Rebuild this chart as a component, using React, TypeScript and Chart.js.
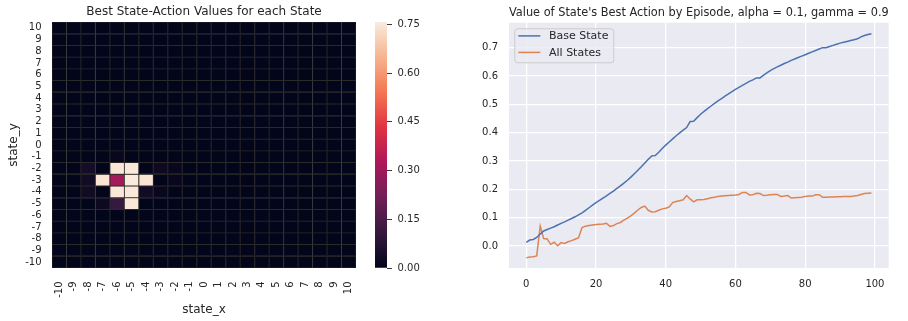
import React, { useEffect, useRef } from "react";
import { Chart, registerables } from "chart.js";
Chart.register(...registerables);

const FONT = "'DejaVu Sans', 'Liberation Sans', sans-serif";
const TEXT = "#262626";

// ---------- heatmap data ----------
const heatXLabels = ["-10", "-9", "-8", "-7", "-6", "-5", "-4", "-3", "-2", "-1", "0", "1", "2", "3", "4", "5", "6", "7", "8", "9", "10"];
const heatYValues = [10, 9, 8, 7, 6, 5, 4, 3, 2, 1, 0, -1, -2, -3, -4, -5, -6, -7, -8, -9, -10];
// non-zero cells (all other cells are 0)
const hotCellX = [-6, -5, -7, -6, -5, -4, -6, -5, -6, -5, -8, -8, -8, -4, -3, -7, -3, -2, -2, -6];
const hotCellY = [-2, -2, -3, -3, -3, -3, -4, -4, -5, -5, -2, -3, -4, -4, -4, -5, -2, -2, -3, -1];
const hotCellValue = [0.748, 0.752, 0.745, 0.31, 0.757, 0.744, 0.75, 0.753, 0.11, 0.749, 0.04, 0.03, 0.03, 0.035, 0.015, 0.02, 0.025, 0.012, 0.01, 0.012];
const colorbarTicks = [0, 0.15, 0.3, 0.45, 0.6, 0.75];

// ---------- line chart data ----------
const episodes = [
  0, 1, 2, 3, 4, 5, 6, 7, 8, 9, 10, 11, 12, 13, 14, 15, 16, 17, 18, 19,
  20, 21, 22, 23, 24, 25, 26, 27, 28, 29, 30, 31, 32, 33, 34, 35, 36, 37, 38, 39,
  40, 41, 42, 43, 44, 45, 46, 47, 48, 49, 50, 51, 52, 53, 54, 55, 56, 57, 58, 59,
  60, 61, 62, 63, 64, 65, 66, 67, 68, 69, 70, 71, 72, 73, 74, 75, 76, 77, 78, 79,
  80, 81, 82, 83, 84, 85, 86, 87, 88, 89, 90, 91, 92, 93, 94, 95, 96, 97, 98, 99,
];
const baseState = [
  0.013, 0.021, 0.023, 0.030, 0.042, 0.053, 0.058, 0.063, 0.068, 0.074,
  0.080, 0.085, 0.091, 0.097, 0.103, 0.110, 0.117, 0.126, 0.135, 0.144,
  0.153, 0.161, 0.169, 0.177, 0.186, 0.194, 0.203, 0.212, 0.222, 0.232,
  0.243, 0.255, 0.267, 0.280, 0.293, 0.306, 0.318, 0.319, 0.331, 0.344,
  0.356, 0.367, 0.378, 0.389, 0.399, 0.409, 0.418, 0.439, 0.440, 0.453,
  0.465, 0.475, 0.485, 0.494, 0.503, 0.512, 0.520, 0.529, 0.537, 0.545,
  0.553, 0.560, 0.567, 0.574, 0.581, 0.586, 0.593, 0.593, 0.602, 0.611,
  0.619, 0.626, 0.632, 0.638, 0.644, 0.649, 0.655, 0.660, 0.665, 0.670,
  0.675, 0.680, 0.685, 0.690, 0.695, 0.700, 0.700, 0.704, 0.708, 0.712,
  0.716, 0.719, 0.722, 0.725, 0.728, 0.731, 0.738, 0.743, 0.746, 0.749,
];
const allStates = [
  -0.042, -0.039, -0.038, -0.035, 0.070, 0.026, 0.025, 0.006, 0.013, 0.001,
  0.012, 0.009, 0.015, 0.019, 0.024, 0.029, 0.065, 0.070, 0.072, 0.074,
  0.076, 0.077, 0.078, 0.080, 0.069, 0.072, 0.079, 0.083, 0.091, 0.098,
  0.106, 0.116, 0.127, 0.136, 0.141, 0.126, 0.120, 0.121, 0.126, 0.131,
  0.133, 0.138, 0.153, 0.157, 0.160, 0.163, 0.178, 0.166, 0.156, 0.163,
  0.163, 0.164, 0.167, 0.170, 0.172, 0.175, 0.176, 0.177, 0.178, 0.179,
  0.180, 0.182, 0.189, 0.189, 0.180, 0.181, 0.186, 0.185, 0.178, 0.179,
  0.181, 0.182, 0.182, 0.175, 0.176, 0.178, 0.169, 0.170, 0.171, 0.172,
  0.175, 0.176, 0.176, 0.181, 0.181, 0.172, 0.172, 0.173, 0.173, 0.174,
  0.174, 0.175, 0.175, 0.175, 0.176, 0.178, 0.182, 0.185, 0.186, 0.187,
];
const lineXTicks = [0, 20, 40, 60, 80, 100];
const lineYTicks = [0, 0.1, 0.2, 0.3, 0.4, 0.5, 0.6, 0.7];

// ---------- rocket colormap ----------
const ROCKET: [number, number[]][] = [
  [0, [3, 5, 26]],
  [1 / 7, [53, 25, 62]],
  [2 / 7, [112, 31, 87]],
  [3 / 7, [173, 23, 89]],
  [4 / 7, [225, 51, 66]],
  [5 / 7, [243, 118, 81]],
  [6 / 7, [246, 180, 143]],
  [1, [250, 235, 221]],
];
function rocket(t: number): string {
  const v = Math.max(0, Math.min(1, t));
  for (let i = 1; i < ROCKET.length; i++) {
    const [t1, c1] = ROCKET[i];
    const [t0, c0] = ROCKET[i - 1];
    if (v <= t1) {
      const f = (v - t0) / (t1 - t0);
      const c = c0.map((a, k) => Math.round(a + (c1[k] - a) * f));
      return `rgb(${c[0]},${c[1]},${c[2]})`;
    }
  }
  return "rgb(250,235,221)";
}

const vmax = Math.max(...hotCellValue);

function cellValue(x: number, y: number): number {
  for (let i = 0; i < hotCellX.length; i++) {
    if (hotCellX[i] === x && hotCellY[i] === y) return hotCellValue[i];
  }
  return 0;
}

const tickFont = { family: FONT, size: 10 };
const labelFont = { family: FONT, size: 12 };

function heatConfig(): any {
  const datasets = heatYValues.map((y) => ({
    data: heatXLabels.map(() => [y - 0.5, y + 0.5]),
    backgroundColor: heatXLabels.map((lx) => rocket(cellValue(Number(lx), y) / vmax)),
    borderColor: "#2a2a2a",
    borderWidth: 0.8,
    borderSkipped: false,
    grouped: false,
    barPercentage: 1,
    categoryPercentage: 1,
  }));
  return {
    type: "bar",
    data: { labels: heatXLabels, datasets },
    options: {
      animation: false,
      responsive: false,
      events: [],
      layout: { padding: { right: 14 } },
      plugins: {
        legend: { display: false },
        tooltip: { enabled: false },
        title: {
          display: true,
          text: "Best State-Action Values for each State",
          font: { family: FONT, size: 12, weight: "normal" },
          color: TEXT,
          padding: { top: 5, bottom: 2.6 },
          fullSize: false,
        },
      },
      scales: {
        x: {
          type: "category",
          offset: true,
          grid: { display: false, drawTicks: false },
          border: { display: false },
          ticks: { autoSkip: false, minRotation: 90, maxRotation: 90, padding: 13.5, font: tickFont, color: TEXT },
          title: { display: true, text: "state_x", font: labelFont, color: TEXT, padding: { top: 0, bottom: 4 } },
          afterFit: (s: any) => { s.height = 53; s.paddingLeft = 0; s.paddingRight = 0; },
        },
        y: {
          type: "linear",
          min: -10.5,
          max: 10.5,
          afterBuildTicks: (s: any) => { s.ticks = heatYValues.map((v) => ({ value: v })); },
          grid: { display: false, drawTicks: false },
          border: { display: false },
          ticks: { autoSkip: false, padding: 10.5, font: tickFont, color: TEXT, callback: (v: any) => String(v) },
          title: { display: true, text: "state_y", font: labelFont, color: TEXT, padding: { top: 7, bottom: 0 } },
          afterFit: (s: any) => { s.width = 52; },
        },
      },
    },
  };
}

function colorbarConfig(): any {
  return {
    type: "bar",
    data: {
      labels: [""],
      datasets: [
        {
          data: [vmax],
          borderWidth: 0,
          barPercentage: 1,
          categoryPercentage: 1,
          backgroundColor: (ctx: any) => {
            const chart = ctx.chart;
            const ys = chart.scales && chart.scales.y;
            if (!chart.chartArea || !ys) return rocket(0.5);
            const g = chart.ctx.createLinearGradient(0, ys.getPixelForValue(0), 0, ys.getPixelForValue(vmax));
            ROCKET.forEach(([t, c]) => g.addColorStop(t, `rgb(${c[0]},${c[1]},${c[2]})`));
            return g;
          },
        },
      ],
    },
    options: {
      animation: false,
      responsive: false,
      events: [],
      layout: { padding: { left: 5, top: 22, bottom: 53 } },
      plugins: { legend: { display: false }, tooltip: { enabled: false }, title: { display: false } },
      scales: {
        x: { display: false },
        y: {
          position: "right",
          min: 0,
          max: vmax,
          afterBuildTicks: (s: any) => { s.ticks = colorbarTicks.map((v) => ({ value: v })); },
          grid: { drawOnChartArea: false, drawTicks: true, tickLength: 5, color: "#3a3a3a", lineWidth: 1 },
          border: { display: false },
          ticks: { padding: 5.5, font: tickFont, color: TEXT, callback: (v: any) => Number(v).toFixed(2) },
          afterFit: (s: any) => { s.width = 43; },
        },
      },
    },
  };
}

const areaBg = {
  id: "areaBg",
  beforeDraw(chart: any) {
    const { ctx, chartArea: a } = chart;
    ctx.save();
    ctx.fillStyle = "#EAEAF2";
    ctx.fillRect(a.left, a.top, a.right - a.left, a.bottom - a.top);
    ctx.restore();
  },
};

const innerLegend = {
  id: "innerLegend",
  afterDatasetsDraw(chart: any) {
    const { ctx, chartArea: a } = chart;
    const x = a.left + 5.3;
    const y = a.top + 5.6;
    const w = 99;
    const h = 34;
    ctx.save();
    ctx.beginPath();
    if (ctx.roundRect) ctx.roundRect(x + 0.5, y + 0.5, w, h, 3);
    else ctx.rect(x + 0.5, y + 0.5, w, h);
    ctx.fillStyle = "rgba(234,234,242,0.8)";
    ctx.fill();
    ctx.strokeStyle = "#cccccc";
    ctx.lineWidth = 1;
    ctx.stroke();
    chart.data.datasets.forEach((ds: any, i: number) => {
      const ly = y + 7.6 + i * 16.5;
      ctx.beginPath();
      ctx.strokeStyle = ds.borderColor;
      ctx.lineWidth = 1.5;
      ctx.moveTo(x + 4, ly);
      ctx.lineTo(x + 26, ly);
      ctx.stroke();
      ctx.fillStyle = TEXT;
      ctx.font = `11px ${FONT}`;
      ctx.textBaseline = "middle";
      ctx.textAlign = "left";
      ctx.fillText(ds.label, x + 34.7, ly + 0.6);
    });
    ctx.restore();
  },
};

function lineConfig(): any {
  return {
    type: "line",
    data: {
      labels: episodes,
      datasets: [
        { label: "Base State", data: baseState, borderColor: "#4C72B0", backgroundColor: "#4C72B0", borderWidth: 1.5, pointRadius: 0, tension: 0, fill: false },
        { label: "All States", data: allStates, borderColor: "#DD8452", backgroundColor: "#DD8452", borderWidth: 1.5, pointRadius: 0, tension: 0, fill: false },
      ],
    },
    plugins: [areaBg, innerLegend],
    options: {
      animation: false,
      responsive: false,
      events: [],
      layout: { padding: { right: 19.3 } },
      plugins: {
        legend: { display: false },
        tooltip: { enabled: false },
        title: {
          display: true,
          text: "Value of State's Best Action by Episode, alpha = 0.1, gamma = 0.9",
          font: { family: FONT, size: 12, weight: "normal" },
          color: TEXT,
          padding: { top: 5.5, bottom: 2.8 },
          fullSize: false,
        },
      },
      scales: {
        x: {
          type: "linear",
          min: -4.95,
          max: 103.95,
          afterBuildTicks: (s: any) => { s.ticks = lineXTicks.map((v) => ({ value: v })); },
          grid: { color: "#ffffff", lineWidth: 1.25, drawTicks: false },
          border: { display: false },
          ticks: { padding: 10, font: tickFont, color: TEXT, callback: (v: any) => String(v) },
          afterFit: (s: any) => { s.height = 53; },
        },
        y: {
          type: "linear",
          min: -0.0777,
          max: 0.788,
          afterBuildTicks: (s: any) => { s.ticks = lineYTicks.map((v) => ({ value: v })); },
          grid: { color: "#ffffff", lineWidth: 1.25, drawTicks: false },
          border: { display: false },
          ticks: { padding: 11, font: tickFont, color: TEXT, callback: (v: any) => Number(v).toFixed(1) },
          afterFit: (s: any) => { s.width = 59; },
        },
      },
    },
  };
}

export default function App() {
  const heatRef = useRef<HTMLCanvasElement>(null);
  const barRef = useRef<HTMLCanvasElement>(null);
  const lineRef = useRef<HTMLCanvasElement>(null);

  useEffect(() => {
    const charts: Chart[] = [];
    if (heatRef.current) charts.push(new Chart(heatRef.current, heatConfig()));
    if (barRef.current) charts.push(new Chart(barRef.current, colorbarConfig()));
    if (lineRef.current) charts.push(new Chart(lineRef.current, lineConfig()));
    return () => charts.forEach((c) => c.destroy());
  }, []);

  return (
    <div style={{ position: "absolute", left: 0, top: 0, width: 908, height: 321, background: "#ffffff", overflow: "hidden" }}>
      <canvas ref={heatRef} width={370} height={321} style={{ position: "absolute", left: 0, top: 0, width: 370, height: 321 }} />
      <canvas ref={barRef} width={60} height={321} style={{ position: "absolute", left: 370, top: 0, width: 60, height: 321 }} />
      <canvas ref={lineRef} width={458} height={321} style={{ position: "absolute", left: 450, top: 0, width: 458, height: 321 }} />
    </div>
  );
}
